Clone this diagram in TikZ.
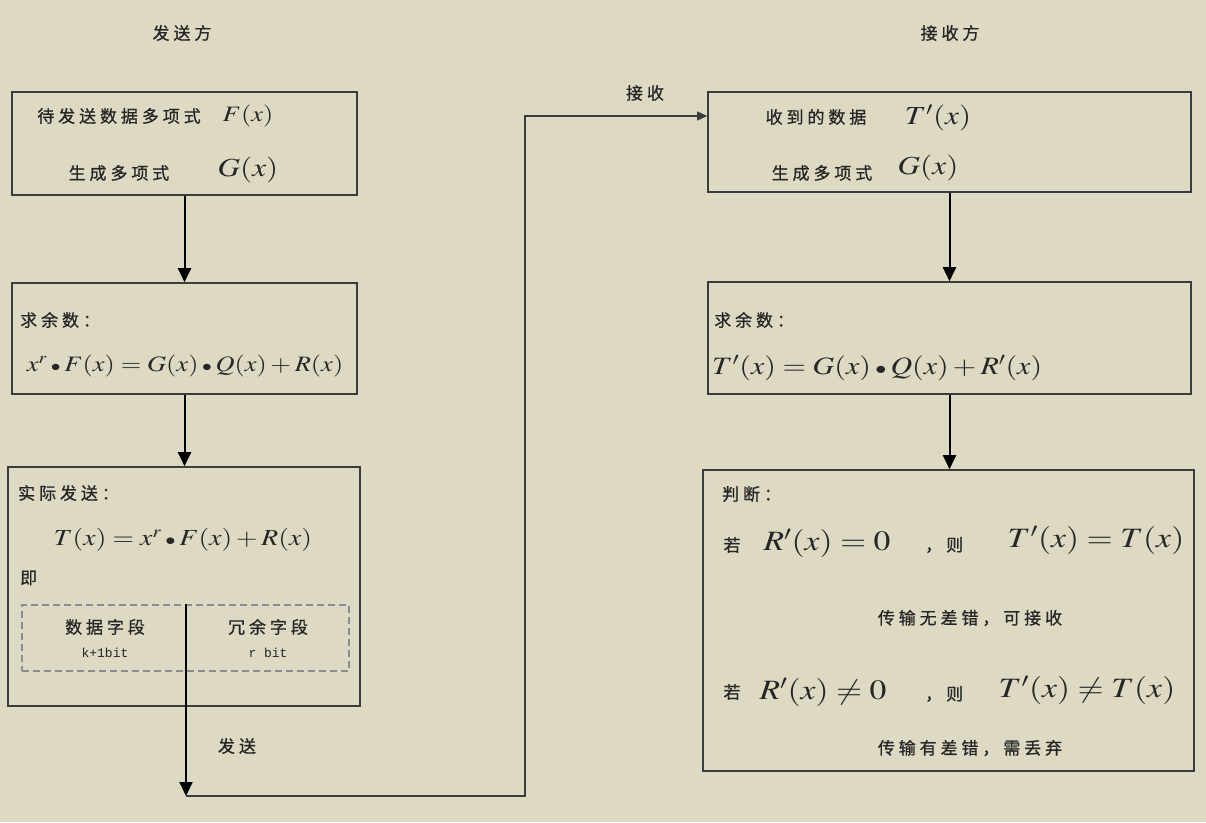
\documentclass[tikz,border=0pt]{standalone}
\usepackage{graphicx}
\usepackage{mathptmx}
\usepackage{fontspec}
\setmainfont{Liberation Serif}
\newfontfamily\cjk[LetterSpace=23,FakeBold=0.8]{Noto Sans CJK SC}
\newfontfamily\monof{Liberation Mono}
\usetikzlibrary{fit,arrows.meta}
\definecolor{bgc}{HTML}{DDD9C3}
\definecolor{edge}{HTML}{3C3C3C}
\definecolor{txt}{HTML}{262626}
\definecolor{dash}{HTML}{8C8C8C}
\newcommand{\zh}[1]{{\cjk\fontsize{17}{20}\selectfont #1}}
\newcommand{\fm}[2]{\scalebox{1.2}[1]{\fontsize{#1}{#1}\selectfont$#2$}}
\newcommand{\dotop}{\mathbin{\scriptstyle\bullet}}
\tikzset{
  boxa/.style={draw=edge, line width=1.6pt, inner sep=0pt},
  dbox/.style={draw=dash, line width=1.4pt, dash pattern=on 7pt off 4pt, inner sep=0pt},
  lbl/.style={inner sep=0pt, text=txt},
  arr/.style={draw=black, line width=2pt, -{Triangle[length=14pt,width=13pt]}},
  conn/.style={draw=edge, line width=1.3pt},
  connarr/.style={conn, -{Triangle[length=10pt,width=9pt]}}
}
\begin{document}
\begin{tikzpicture}[x=1pt,y=-1pt]
\fill[bgc] (0,0) rectangle (1206,822);
\useasboundingbox (0,0) rectangle (1206,822);

% headings
\node[lbl] (ts) at (182,33) {\zh{发送方}};
\node[lbl] (rs) at (950,33) {\zh{接收方}};

% ---- sender ----
\node[boxa, fit={(12,92)(357,195)}] (L1) {};
\node[lbl] (l1a) at (119,116) {\zh{待发送数据多项式}};
\node[lbl] (l1b) at (248,116) {\fm{22}{F(x)}};
\node[lbl] (l1c) at (119,173) {\zh{生成多项式}};
\node[lbl] (l1d) at (248,170) {\fm{26}{G(x)}};

\node[boxa, fit={(12,283)(357,394)}] (L2) {};
\node[lbl, anchor=west] (l2a) at (20,320) {\zh{求余数：}};
\node[lbl] (l2b) at (185,366) {\fm{22}{x^r\dotop F(x)=G(x)\dotop Q(x)+R(x)}};

\node[boxa, fit={(8,467)(360,706)}] (L3) {};
\node[lbl, anchor=west] (l3a) at (18,493) {\zh{实际发送：}};
\node[lbl] (l3b) at (183,540) {\fm{23}{T(x)=x^r\dotop F(x)+R(x)}};
\node[lbl, anchor=west] (l3c) at (20,578) {\zh{即}};
\node[dbox, fit={(22,605)(349,671)}] (D) {};
\node[lbl] (d1) at (105,627) {\zh{数据字段}};
\node[lbl] (d2) at (105,653) {\monof\fontsize{13}{15}\selectfont k+1bit};
\node[lbl] (d3) at (268,627) {\zh{冗余字段}};
\node[lbl] (d4) at (268,653) {\monof\fontsize{13}{15}\selectfont r bit};

\draw[arr] (L1.south) -- (L1.south |- L2.north);
\draw[arr] (L2.south) -- (L2.south |- L3.north);

% ---- transmission ----
\coordinate (sendend) at (186,796);
\coordinate (c1) at (525,796);
\coordinate (c2) at (525,116);
\node[lbl] (send) at (237,746) {\zh{发送}};
\node[lbl] (recv) at (645,93) {\zh{接收}};

% ---- receiver ----
\node[boxa, fit={(708,92)(1191,192)}] (R1) {};
\node[lbl] (r1a) at (816,117) {\zh{收到的数据}};
\node[lbl] (r1b) at (938,118) {\fm{26}{T'(x)}};
\node[lbl] (r1c) at (822,173) {\zh{生成多项式}};
\node[lbl] (r1d) at (928,168) {\fm{26}{G(x)}};

\node[boxa, fit={(708,282)(1191,394)}] (R2) {};
\node[lbl, anchor=west] (r2a) at (714,320) {\zh{求余数：}};
\node[lbl, anchor=west] (r2b) at (712,368) {\fm{25}{T'(x)=G(x)\dotop Q(x)+R'(x)}};

\node[boxa, fit={(703,470)(1194,771)}] (R3) {};
\node[lbl, anchor=west] (r3a) at (722,494) {\zh{判断：}};
\node[lbl] (r3b) at (732,545) {\zh{若}};
\node[lbl] (r3c) at (827,543) {\fm{28}{R'(x)=0}};
\node[lbl, anchor=west] (r3d) at (925,545) {\zh{，则}};
\node[lbl] (r3e) at (1096,540) {\fm{28}{T'(x)=T(x)}};
\node[lbl] (r3f) at (970,618) {\zh{传输无差错，可接收}};
\node[lbl] (r3g) at (732,692) {\zh{若}};
\node[lbl] (r3h) at (823,692) {\fm{28}{R'(x)\neq 0}};
\node[lbl, anchor=west] (r3i) at (925,694) {\zh{，则}};
\node[lbl] (r3j) at (1087,690) {\fm{28}{T'(x)\neq T(x)}};
\node[lbl] (r3k) at (970,748) {\zh{传输有差错，需丢弃}};

\draw[arr] (R1.south) -- (R1.south |- R2.north);
\draw[arr] (R2.south) -- (R2.south |- R3.north);

% send line from the dashed frame down, then across to the receiver
\draw[arr] (D.north -| sendend) -- (sendend);
\draw[connarr] (sendend) -- (c1) -- (c2) -- (c2 -| R1.west);
\end{tikzpicture}
\end{document}
